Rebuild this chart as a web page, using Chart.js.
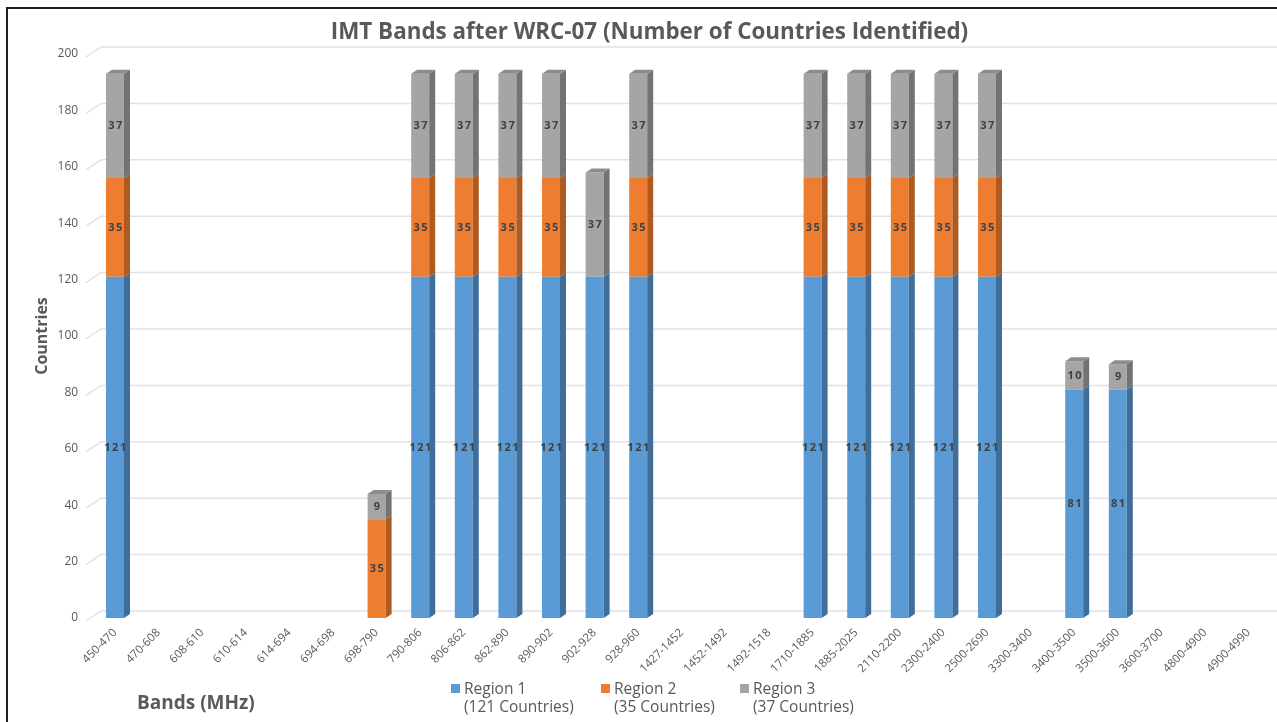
<!DOCTYPE html>
<html>
<head>
<meta charset="utf-8">
<script src="https://cdn.jsdelivr.net/npm/chart.js@4.4.1/dist/chart.umd.min.js"></script>
<style>
  html, body { margin: 0; padding: 0; background: #fff; }
  #wrap { position: relative; width: 1277px; height: 722px; overflow: hidden; background: #fff; }
  #chart { position: absolute; left: 0; top: 0; }
  .frame { position: absolute; left: 6px; top: 7px; width: 1400px; height: 900px;
           border-top: 2px solid #1e1e1e; border-left: 2px solid #1e1e1e; pointer-events: none; }
  .xtitle { position: absolute; left: 137px; top: 689px; font: bold 19px 'Open Sans', sans-serif; color: #595959; line-height: 26px; }
  .lg { position: absolute; top: 679px; font: 15.5px 'Open Sans', sans-serif; color: #595959; line-height: 18px; white-space: nowrap; }
  .lg i { position: absolute; left: -13px; top: 5px; width: 9px; height: 9px; }
</style>
</head>
<body>
<div id="wrap">
  <canvas id="chart" width="1277" height="722"></canvas>
  <div class="xtitle">Bands (MHz)</div>
  <div class="lg" style="left:464px"><i style="background:#5B9BD5"></i>Region 1<br>(121 Countries)</div>
  <div class="lg" style="left:614px"><i style="background:#ED7D31"></i>Region 2<br>(35 Countries)</div>
  <div class="lg" style="left:753px"><i style="background:#A5A5A5"></i>Region 3<br>(37 Countries)</div>
  <div class="frame"></div>
</div>
<script>
// Frequency bands (MHz) on the category axis
const bands = [
  '450-470', '470-608', '608-610', '610-614', '614-694', '694-698', '698-790',
  '790-806', '806-862', '862-890', '890-902', '902-928', '928-960',
  '1427-1452', '1452-1492', '1492-1518', '1710-1885', '1885-2025', '2110-2200',
  '2300-2400', '2500-2690', '3300-3400', '3400-3500', '3500-3600', '3600-3700',
  '4800-4900', '4900-4990'
];

// Number of countries identifying each band, per ITU region
const region1 = [121, 0, 0, 0, 0, 0, 0, 121, 121, 121, 121, 121, 121, 0, 0, 0, 121, 121, 121, 121, 121, 0, 81, 81, 0, 0, 0];
const region2 = [35, 0, 0, 0, 0, 0, 35, 35, 35, 35, 35, 0, 35, 0, 0, 0, 35, 35, 35, 35, 35, 0, 0, 0, 0, 0, 0];
const region3 = [37, 0, 0, 0, 0, 0, 9, 37, 37, 37, 37, 37, 37, 0, 0, 0, 37, 37, 37, 37, 37, 0, 10, 9, 0, 0, 0];

const seriesNames = ['Region 1', 'Region 2', 'Region 3'];
const yTicks = [0, 20, 40, 60, 80, 100, 120, 140, 160, 180, 200];

const faceColors = ['#5B9BD5', '#ED7D31', '#A5A5A5'];
const sideColors = ['#3F6E9A', '#AE5A20', '#737373'];
const topColors  = ['#4A84BA', '#C9682A', '#8C8C8C'];

const DEPTH_X = 6, DEPTH_Y = 4;

// Back-wall gridlines with a short slanted lead-in, giving the 3-D floor look
const backWall = {
  id: 'backWall',
  beforeDatasetsDraw(chart) {
    const { ctx, scales: { y } } = chart;
    ctx.save();
    ctx.strokeStyle = '#e2e2e2';
    ctx.lineWidth = 1.5;
    yTicks.forEach(v => {
      const py = y.getPixelForValue(v);
      ctx.beginPath();
      ctx.moveTo(86, py + 3);
      ctx.lineTo(101, py - 7);
      ctx.lineTo(chart.width, py - 7);
      ctx.stroke();
    });
    ctx.restore();
  }
};

// Side and top faces for each column segment
const columns3d = {
  id: 'columns3d',
  afterDatasetsDraw(chart) {
    const { ctx } = chart;
    const data = chart.data.datasets.map(d => d.data);
    ctx.save();
    chart.data.datasets.forEach((ds, di) => {
      const meta = chart.getDatasetMeta(di);
      meta.data.forEach((bar, i) => {
        if (!ds.data[i]) return;
        const left = bar.x - bar.width / 2, right = bar.x + bar.width / 2;
        const top = bar.y, base = bar.base;
        ctx.fillStyle = sideColors[di];
        ctx.beginPath();
        ctx.moveTo(right, top);
        ctx.lineTo(right + DEPTH_X, top - DEPTH_Y);
        ctx.lineTo(right + DEPTH_X, base - DEPTH_Y);
        ctx.lineTo(right, base);
        ctx.closePath();
        ctx.fill();
        let isTop = true;
        for (let k = di + 1; k < data.length; k++) if (data[k][i]) isTop = false;
        if (isTop) {
          ctx.fillStyle = topColors[di];
          ctx.beginPath();
          ctx.moveTo(left, top);
          ctx.lineTo(left + DEPTH_X, top - DEPTH_Y);
          ctx.lineTo(right + DEPTH_X, top - DEPTH_Y);
          ctx.lineTo(right, top);
          ctx.closePath();
          ctx.fill();
        }
      });
    });
    ctx.restore();
  }
};

// Value labels centred on each segment
const valueLabels = {
  id: 'valueLabels',
  afterDatasetsDraw(chart) {
    const { ctx } = chart;
    ctx.save();
    ctx.font = 'bold 11px "Open Sans", sans-serif';
    ctx.fillStyle = '#404040';
    ctx.textAlign = 'center';
    ctx.textBaseline = 'middle';
    if ('letterSpacing' in ctx) ctx.letterSpacing = '1.5px';
    chart.data.datasets.forEach((ds, di) => {
      chart.getDatasetMeta(di).data.forEach((bar, i) => {
        const v = ds.data[i];
        if (!v) return;
        ctx.fillText(String(v), bar.x + 1, (bar.y + bar.base) / 2);
      });
    });
    ctx.restore();
  }
};

new Chart(document.getElementById('chart'), {
  type: 'bar',
  data: {
    labels: bands,
    datasets: [region1, region2, region3].map((vals, i) => ({
      label: seriesNames[i],
      data: vals,
      backgroundColor: faceColors[i],
      borderWidth: 0,
      inflateAmount: 0,
      barThickness: 18
    }))
  },
  options: {
    responsive: false,
    animation: false,
    events: [],
    layout: { padding: { left: 28.6, right: 6.6, top: 0, bottom: 0 } },
    plugins: {
      legend: { display: false },
      tooltip: { enabled: false },
      title: {
        display: true,
        text: 'IMT Bands after WRC-07 (Number of Countries Identified)',
        color: '#595959',
        font: { family: 'Open Sans', size: 22.4, weight: 'bold' },
        padding: { top: 19.6, bottom: 7.5 }
      }
    },
    scales: {
      x: {
        stacked: true,
        grid: { display: false, drawTicks: false },
        border: { display: false },
        ticks: {
          autoSkip: false, minRotation: 45, maxRotation: 45,
          color: '#595959', font: { family: 'Open Sans', size: 11.5 }, padding: 8
        },
        afterFit(s) { s.height = 104; }
      },
      y: {
        stacked: true,
        min: 0, max: 200,
        grid: { display: false, drawTicks: false },
        border: { display: false },
        ticks: { stepSize: 20, color: '#595959', font: { family: 'Open Sans', size: 12 }, padding: 15 },
        title: {
          display: true, text: 'Countries', color: '#595959',
          font: { family: 'Open Sans', size: 16, weight: 'bold' },
          padding: { top: 3.8, bottom: 0 }
        },
        afterFit(s) { s.width = 64.6; }
      }
    }
  },
  plugins: [backWall, columns3d, valueLabels]
});
</script>
</body>
</html>
